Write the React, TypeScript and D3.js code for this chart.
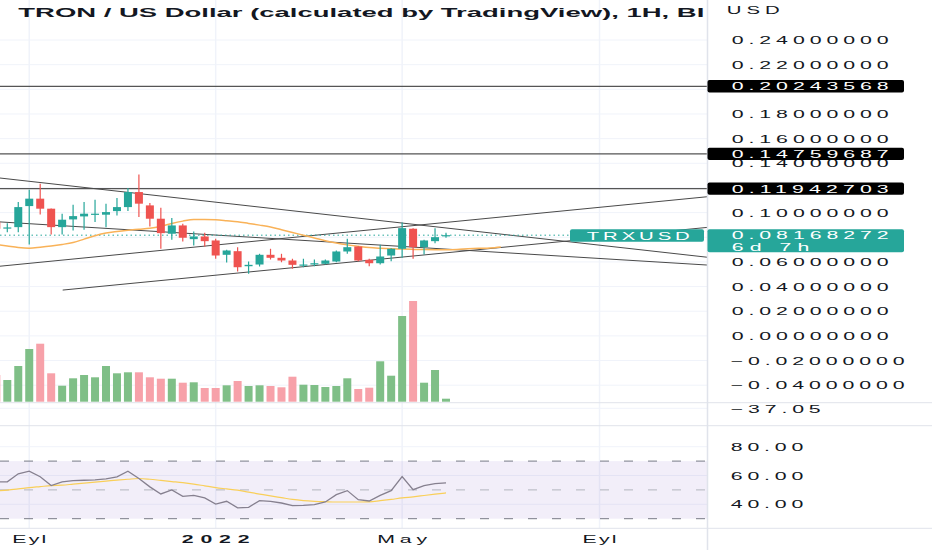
import * as d3 from "d3";

// weekly bars, bar 0 opens on 16 Aug 2021
const firstWeek = Date.UTC(2021, 7, 16);
const WEEK = 7 * 24 * 3600 * 1000;

const opens = [
  0.09228, 0.08716, 0.08821, 0.10529, 0.1113, 0.10317, 0.08821, 0.09447, 0.09691, 0.09854,
  0.09829, 0.10122, 0.10447, 0.11667, 0.10585, 0.09504, 0.08285, 0.08959, 0.07846, 0.08065,
  0.0774, 0.06577, 0.0687, 0.05651, 0.05789, 0.06577, 0.06334, 0.06114, 0.05707, 0.05789,
  0.05846, 0.06033, 0.06846, 0.07252, 0.06171, 0.05894, 0.0652, 0.07065, 0.08691, 0.07195,
  0.07683, 0.0809,
];
const highs = [
  0.09447, 0.09146, 0.10854, 0.11862, 0.1235, 0.10342, 0.09911, 0.10642, 0.10854, 0.11049,
  0.10724, 0.11179, 0.11992, 0.13081, 0.10772, 0.10399, 0.09553, 0.09098, 0.08472, 0.08366,
  0.07878, 0.06984, 0.07195, 0.06033, 0.06659, 0.07065, 0.06659, 0.06252, 0.06252, 0.06195,
  0.06195, 0.06927, 0.07878, 0.0728, 0.06252, 0.0739, 0.07114, 0.09203, 0.0874, 0.07797,
  0.0874, 0.08366,
];
const lows = [
  0.08472, 0.08415, 0.08415, 0.07415, 0.09854, 0.08228, 0.08228, 0.08553, 0.0861, 0.09228,
  0.08821, 0.09772, 0.10122, 0.09634, 0.08878, 0.07065, 0.07797, 0.07659, 0.07333, 0.07252,
  0.06252, 0.05951, 0.0522, 0.05033, 0.05626, 0.06195, 0.05976, 0.05439, 0.05569, 0.05651,
  0.05789, 0.05976, 0.06659, 0.06057, 0.05651, 0.05789, 0.06057, 0.06334, 0.06252, 0.06602,
  0.0752, 0.0796,
];
const closes = [
  0.08691, 0.08797, 0.10447, 0.1113, 0.10317, 0.08821, 0.09423, 0.09716, 0.09911, 0.09911,
  0.10041, 0.10447, 0.11667, 0.10724, 0.09504, 0.08334, 0.08959, 0.0796, 0.08065, 0.07683,
  0.0652, 0.06927, 0.05569, 0.05764, 0.06577, 0.06334, 0.06114, 0.05764, 0.05789, 0.05894,
  0.06114, 0.06846, 0.07195, 0.06114, 0.05894, 0.06439, 0.07065, 0.0874, 0.07195, 0.0774,
  0.08008, 0.08168272,
];
// volume, millions
const volumes = [
  534, 434, 714, 1054, 1160, 568, 320, 468, 534, 488, 714, 568, 588, 588, 488, 460, 460, 380,
  388, 274, 274, 328, 414, 314, 328, 314, 288, 500, 340, 334, 294, 314, 468, 254, 280, 808,
  520, 1714, 2014, 380, 634, 60,
];
// moving average (plotted with a forward offset)
const priceMA = [
  0.07415, 0.07293, 0.07171, 0.07114, 0.07187, 0.07285, 0.07415, 0.07577, 0.07846, 0.0813,
  0.08349, 0.08472, 0.08569, 0.08651, 0.08732, 0.08894, 0.09122, 0.09309, 0.09447, 0.09447,
  0.09414, 0.09341, 0.0926, 0.09122, 0.08984, 0.0883, 0.0861, 0.0839, 0.08163, 0.07943,
  0.07716, 0.07529, 0.07382, 0.07268, 0.07163, 0.07106, 0.07065, 0.07041, 0.07016, 0.07,
  0.06992, 0.06992, 0.07016, 0.07065, 0.07106, 0.07138, 0.07219,
];
const rsi = [
  55.6, 55.6, 61.2, 63.0, 59.1, 53.0, 55.6, 56.5, 56.7, 57.0, 57.7, 59.1, 63.0, 57.9, 52.1,
  47.2, 50.0, 45.5, 46.2, 44.4, 40.2, 42.1, 37.5, 37.9, 42.5, 42.1, 40.9, 39.1, 39.3, 39.8,
  41.6, 46.7, 49.5, 43.2, 42.3, 46.2, 49.5, 59.3, 50.2, 53.0, 54.4, 54.9,
];
const rsiMA = [
  49.4, 49.9, 50.7, 51.6, 52.3, 53.0, 53.3, 54.0, 54.7, 55.4, 56.1, 56.8, 57.4, 57.9, 57.4,
  56.6, 55.8, 55.0, 54.0, 52.8, 51.6, 50.7, 49.8, 48.4, 47.1, 45.8, 44.6, 43.4, 42.6, 42.1,
  41.8, 41.6, 41.6, 41.6, 41.7, 42.5, 43.4, 44.4, 45.2, 46.1, 47.0, 47.9,
];

const levels = ["0.20243568", "0.14759687", "0.11942703"];
// drawn trend lines: [bar, price] -> [bar, price]
const trendLines: [number, number][][] = [
  [[0.335, 0.12805], [64.8, 0.06382]],
  [[0.335, 0.09244], [64.8, 0.05748]],
  [[0.335, 0.05651], [64.8, 0.11285]],
  [[6.05, 0.03716], [64.8, 0.08797]],
];
const priceTicks = [0.24, 0.22, 0.2, 0.18, 0.16, 0.14, 0.12, 0.1, 0.08, 0.06, 0.04, 0.02, 0, -0.02, -0.04];
const hiddenTicks = [0.2, 0.12, 0.08];
const rsiTicks = [80, 60, 40];
const monthTicks = [
  { label: "Eyl", date: Date.UTC(2021, 8, 1), bold: false, w: 34 },
  { label: "2022", date: Date.UTC(2022, 0, 1), bold: true, w: 68 },
  { label: "May", date: Date.UTC(2022, 4, 1), bold: false, w: 50 },
  { label: "Eyl", date: Date.UTC(2022, 8, 1), bold: false, w: 34 },
];
const lastPrice = 0.08168272;
const title = "TRON / US Dollar (calculated by TradingView), 1H, BI";

const W = 932;
const H = 550;
const plotR = 707;
const mainBottom = 402.7;
const rsiTop = 425.7;
const axisTop = 528.3;

const UP = "#26a69a";
const DOWN = "#ef5350";
const GRID = "#f0f3fa";
const BORDER = "#e0e3eb";
const FONT = "'Liberation Sans', Arial, sans-serif";

const x = d3.scaleLinear().domain([0, 41]).range([-3.67, 446]);
const y = d3.scaleLinear().domain([0.24, -0.04]).range([40, 385.2]);
const yVol = d3.scaleLinear().domain([0, 2000]).range([401.7, 301.7]);
const yRsi = d3.scaleLinear().domain([40, 80]).range([504.3, 446.7]);

type TP = {
  x: number;
  y: number;
  w: number;
  size?: number;
  bold?: boolean;
  fill?: string;
  anchor?: "start" | "middle" | "end";
  sx?: number;
  children: string;
};

const WideText = ({ x, y, w, size = 11.5, bold = false, fill = "#131722", anchor = "start", sx = 1.85, children }: TP) => (
  <g transform={`translate(${x},${y}) scale(${sx},1)`}>
    <text
      textAnchor={anchor}
      textLength={w / sx}
      lengthAdjust="spacing"
      fontSize={size}
      fontWeight={bold ? 700 : 400}
      fill={fill}
      fontFamily={FONT}
    >
      {children}
    </text>
  </g>
);

const fmt = (v: number) => (v < 0 ? "\u2212" : "") + Math.abs(v).toFixed(8);

const App = () => {
  const maLine = d3
    .line<number>()
    .x((_, i) => x(i))
    .y((d) => y(d))
    .curve(d3.curveMonotoneX)(priceMA);
  const rsiLine = d3
    .line<number>()
    .x((_, i) => x(i))
    .y((d) => yRsi(d))(rsi);
  const rsiMaLine = d3
    .line<number>()
    .x((_, i) => x(i))
    .y((d) => yRsi(d))
    .curve(d3.curveMonotoneX)(rsiMA);

  return (
    <svg
      width={W}
      height={H}
      style={{ position: "absolute", left: 0, top: 0, background: "#fff" }}
    >
      <defs>
        <clipPath id="mainClip">
          <rect x={0} y={0} width={plotR} height={mainBottom} />
        </clipPath>
        <clipPath id="rsiClip">
          <rect x={0} y={rsiTop} width={plotR} height={axisTop - rsiTop} />
        </clipPath>
      </defs>
      <rect width={W} height={H} fill="#fff" />

      {/* grid */}
      {priceTicks.map((t) => (
        <line key={"g" + t} x1={0} x2={plotR} y1={y(t)} y2={y(t)} stroke={GRID} />
      ))}
      <line x1={0} x2={plotR} y1={408.3} y2={408.3} stroke={GRID} />
      {rsiTicks.map((t) => (
        <line key={"r" + t} x1={0} x2={plotR} y1={yRsi(t)} y2={yRsi(t)} stroke={GRID} />
      ))}
      {monthTicks.map((m) => {
        const xm = x(Math.ceil((m.date - firstWeek) / WEEK));
        return <line key={"v" + m.date} x1={xm} x2={xm} y1={0} y2={axisTop} stroke={GRID} strokeWidth={1.5} />;
      })}

      <g clipPath="url(#mainClip)">
        {/* volume */}
        {volumes.map((v, i) => (
          <rect
            key={"vol" + i}
            x={x(i) - 4}
            y={yVol(v)}
            width={8}
            height={yVol(0) - yVol(v)}
            fill={closes[i] >= opens[i] ? "#7fbf87" : "#f7a1a9"}
          />
        ))}

        {/* horizontal levels */}
        {levels.map((l) => (
          <line key={l} x1={0} x2={plotR} y1={y(+l)} y2={y(+l)} stroke="#555" strokeWidth={1.2} />
        ))}
        {/* trend lines */}
        {trendLines.map(([a, b], i) => (
          <line key={"t" + i} x1={x(a[0])} y1={y(a[1])} x2={x(b[0])} y2={y(b[1])} stroke="#4a4a4a" strokeWidth={1} />
        ))}

        {/* last price line */}
        <line
          x1={0}
          x2={570}
          y1={y(lastPrice)}
          y2={y(lastPrice)}
          stroke={UP}
          strokeWidth={1}
          strokeDasharray="1.5 3"
        />

        {/* moving average */}
        <path d={maLine ?? undefined} fill="none" stroke="#f9b258" strokeWidth={1.5} />

        {/* candles */}
        {opens.map((o, i) => {
          const c = closes[i];
          const col = c >= o ? UP : DOWN;
          const cx = x(i);
          const top = y(Math.max(o, c));
          const bot = y(Math.min(o, c));
          return (
            <g key={"c" + i}>
              <line x1={cx} x2={cx} y1={y(highs[i])} y2={y(lows[i])} stroke={col} strokeWidth={1.2} />
              <rect x={cx - 4} y={top} width={8} height={Math.max(1.2, bot - top)} fill={col} />
            </g>
          );
        })}

        {/* symbol label */}
        <rect x={570} y={229.3} width={134} height={12.4} rx={2} fill={UP} />
        <WideText x={638.3} y={239.6} w={103} anchor="middle" fill="#fff" size={11}>
          TRXUSD
        </WideText>

        {/* title */}
        <text
          x={18.3}
          y={16.7}
          fontSize={13}
          fontWeight={700}
          fill="#131722"
          fontFamily={FONT}
          textLength={686}
          lengthAdjust="spacingAndGlyphs"
        >
          {title}
        </text>
      </g>

      {/* RSI pane */}
      <g clipPath="url(#rsiClip)">
        <rect x={0} y={yRsi(70)} width={plotR} height={yRsi(30) - yRsi(70)} fill="rgba(126,87,194,0.1)" />
        <line x1={0} x2={plotR} y1={yRsi(70)} y2={yRsi(70)} stroke="#787b86" strokeDasharray="9 15" />
        <line x1={0} x2={plotR} y1={yRsi(50)} y2={yRsi(50)} stroke="#b2b5be" strokeDasharray="9 15" />
        <line x1={0} x2={plotR} y1={yRsi(30)} y2={yRsi(30)} stroke="#787b86" strokeDasharray="9 15" />
        <path d={rsiMaLine ?? undefined} fill="none" stroke="#f9cf59" strokeWidth={1.2} />
        <path d={rsiLine ?? undefined} fill="none" stroke="#86808f" strokeWidth={1.3} />
      </g>

      {/* pane borders */}
      <line x1={0} x2={W} y1={mainBottom} y2={mainBottom} stroke={BORDER} />
      <line x1={0} x2={W} y1={rsiTop} y2={rsiTop} stroke={BORDER} />
      <line x1={0} x2={W} y1={axisTop} y2={axisTop} stroke={BORDER} />
      <line x1={plotR + 0.5} x2={plotR + 0.5} y1={0} y2={H} stroke={BORDER} strokeWidth={1.5} />

      {/* price axis */}
      <WideText x={726.7} y={14} w={53} size={11}>
        USD
      </WideText>
      {priceTicks
        .filter((t) => !hiddenTicks.includes(t))
        .map((t) => (
          <WideText key={"p" + t} x={t < 0 ? 730.7 : 731.7} y={y(t) + 4} w={t < 0 ? 174 : 157}>
            {fmt(t)}
          </WideText>
        ))}
      {levels.map((l) => (
        <g key={"lb" + l}>
          <rect x={plotR + 0.5} y={y(+l) - 6.2} width={196.5} height={12.4} rx={2} fill="#000" />
          <WideText x={731.7} y={y(+l) + 4} w={157} fill="#fff">
            {l}
          </WideText>
        </g>
      ))}
      <rect x={plotR + 0.5} y={229.3} width={196.5} height={23} rx={2} fill={UP} />
      <WideText x={731.7} y={239.2} w={157} fill="#fff">
        {lastPrice.toFixed(8)}
      </WideText>
      <WideText x={731.7} y={250.8} w={77.7} fill="#fff">
        6d 7h
      </WideText>

      <WideText x={730.7} y={412.6} w={90}>
        {"\u221237.05"}
      </WideText>
      {rsiTicks.map((t) => (
        <WideText key={"rt" + t} x={730.7} y={yRsi(t) + 4} w={72.7}>
          {t.toFixed(2)}
        </WideText>
      ))}

      {/* time axis */}
      {monthTicks.map((m) => (
        <WideText
          key={"tl" + m.date}
          x={x(Math.ceil((m.date - firstWeek) / WEEK))}
          y={543.3}
          w={m.w}
          anchor="middle"
          bold={m.bold}
          size={11.5}
        >
          {m.label}
        </WideText>
      ))}
    </svg>
  );
};

export default App;
